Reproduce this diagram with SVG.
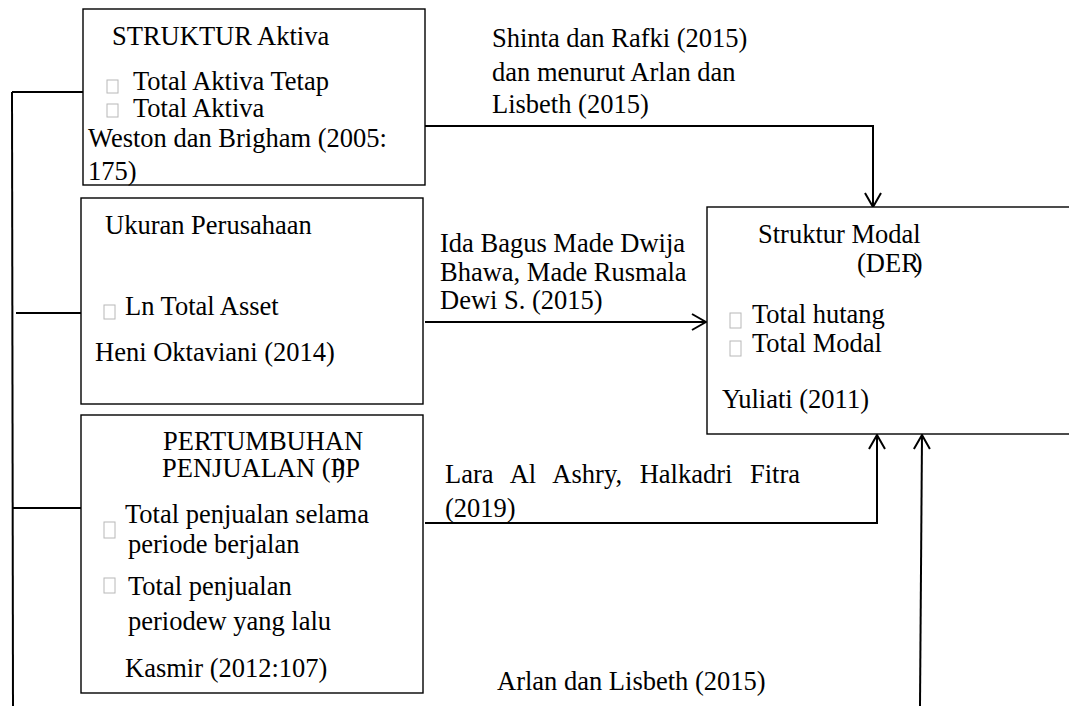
<svg xmlns="http://www.w3.org/2000/svg" width="1069" height="706" viewBox="0 0 1069 706">
<style>
text{font-family:"Liberation Serif","Times New Roman",serif;font-size:26.5px;fill:#000}
.box{fill:#fff;stroke:#000;stroke-width:1.4}
.cb{fill:none;stroke:#b8b8b8;stroke-width:1}
.con{fill:none;stroke:#000;stroke-width:2}
</style>
<defs>
<marker id="arr" viewBox="0 0 16 18" refX="15" refY="9" markerWidth="16" markerHeight="18" markerUnits="userSpaceOnUse" orient="auto">
<path d="M1,1 L15,9 L1,17" fill="none" stroke="#000" stroke-width="2"/>
</marker>
</defs>
<rect width="1069" height="706" fill="#fff"/>
<g id="connectors">
<path class="con" d="M12,92 L13,706"/>
<path class="con" d="M12,92 H83"/>
<path class="con" d="M16,313 H81"/>
<path class="con" d="M13,508 H81"/>
<path class="con" d="M425,126 H873 V207" marker-end="url(#arr)"/>
<path class="con" d="M425,322 H706" marker-end="url(#arr)"/>
<path class="con" d="M425,523 H877 V435" marker-end="url(#arr)"/>
<path class="con" d="M920,706 L922,435" marker-end="url(#arr)"/>
</g>
<g id="node-struktur-aktiva">
<rect class="box" x="83" y="9" width="342" height="176"/>
<text x="112" y="45">STRUKTUR Aktiva</text>
<rect class="cb" x="107" y="80" width="11" height="13"/>
<text x="133" y="90">Total Aktiva Tetap</text>
<rect class="cb" x="107" y="104" width="11" height="13"/>
<text x="133" y="117">Total Aktiva</text>
<text x="88" y="147">Weston dan Brigham (2005:</text>
<text x="88" y="180">175)</text>
</g>
<g id="node-ukuran">
<rect class="box" x="81" y="198" width="342" height="206"/>
<text x="105" y="234">Ukuran Perusahaan</text>
<rect class="cb" x="104" y="305" width="11" height="14"/>
<text x="125" y="315">Ln Total Asset</text>
<text x="95" y="361">Heni Oktaviani (2014)</text>
</g>
<g id="node-pertumbuhan">
<rect class="box" x="81" y="415" width="342" height="278"/>
<text x="163" y="450">PERTUMBUHAN</text>
<text x="162" y="477">PENJUALAN (P<tspan dx="-9">)</tspan>P</text>
<rect class="cb" x="104" y="522" width="11" height="16"/>
<text x="125" y="523">Total penjualan selama</text>
<text x="128" y="553">periode berjalan</text>
<rect class="cb" x="104" y="578" width="11" height="15"/>
<text x="128" y="595">Total penjualan</text>
<text x="128" y="630">periodew yang lalu</text>
<text x="125" y="677">Kasmir (2012:107)</text>
</g>
<g id="node-struktur-modal">
<rect class="box" x="707" y="207" width="370" height="227"/>
<text x="758" y="243">Struktur Modal</text>
<text x="857" y="272">(DER<tspan dx="-5">)</tspan></text>
<rect class="cb" x="730" y="313" width="11" height="15"/>
<text x="752" y="323">Total hutang</text>
<rect class="cb" x="730" y="341" width="11" height="15"/>
<text x="752" y="352">Total Modal</text>
<text x="722" y="408">Yuliati (2011)</text>
</g>
<g id="labels">
<text x="492" y="47">Shinta dan Rafki (2015)</text>
<text x="492" y="81">dan menurut Arlan dan</text>
<text x="492" y="113">Lisbeth (2015)</text>
<text x="440" y="252">Ida Bagus Made Dwija</text>
<text x="440" y="281">Bhawa, Made Rusmala</text>
<text x="440" y="309">Dewi S. (2015)</text>
<text x="445" y="483" word-spacing="11">Lara Al Ashry, Halkadri Fitra</text>
<text x="445" y="517">(2019)</text>
<text x="497" y="690">Arlan dan Lisbeth (2015)</text>
</g>
</svg>
